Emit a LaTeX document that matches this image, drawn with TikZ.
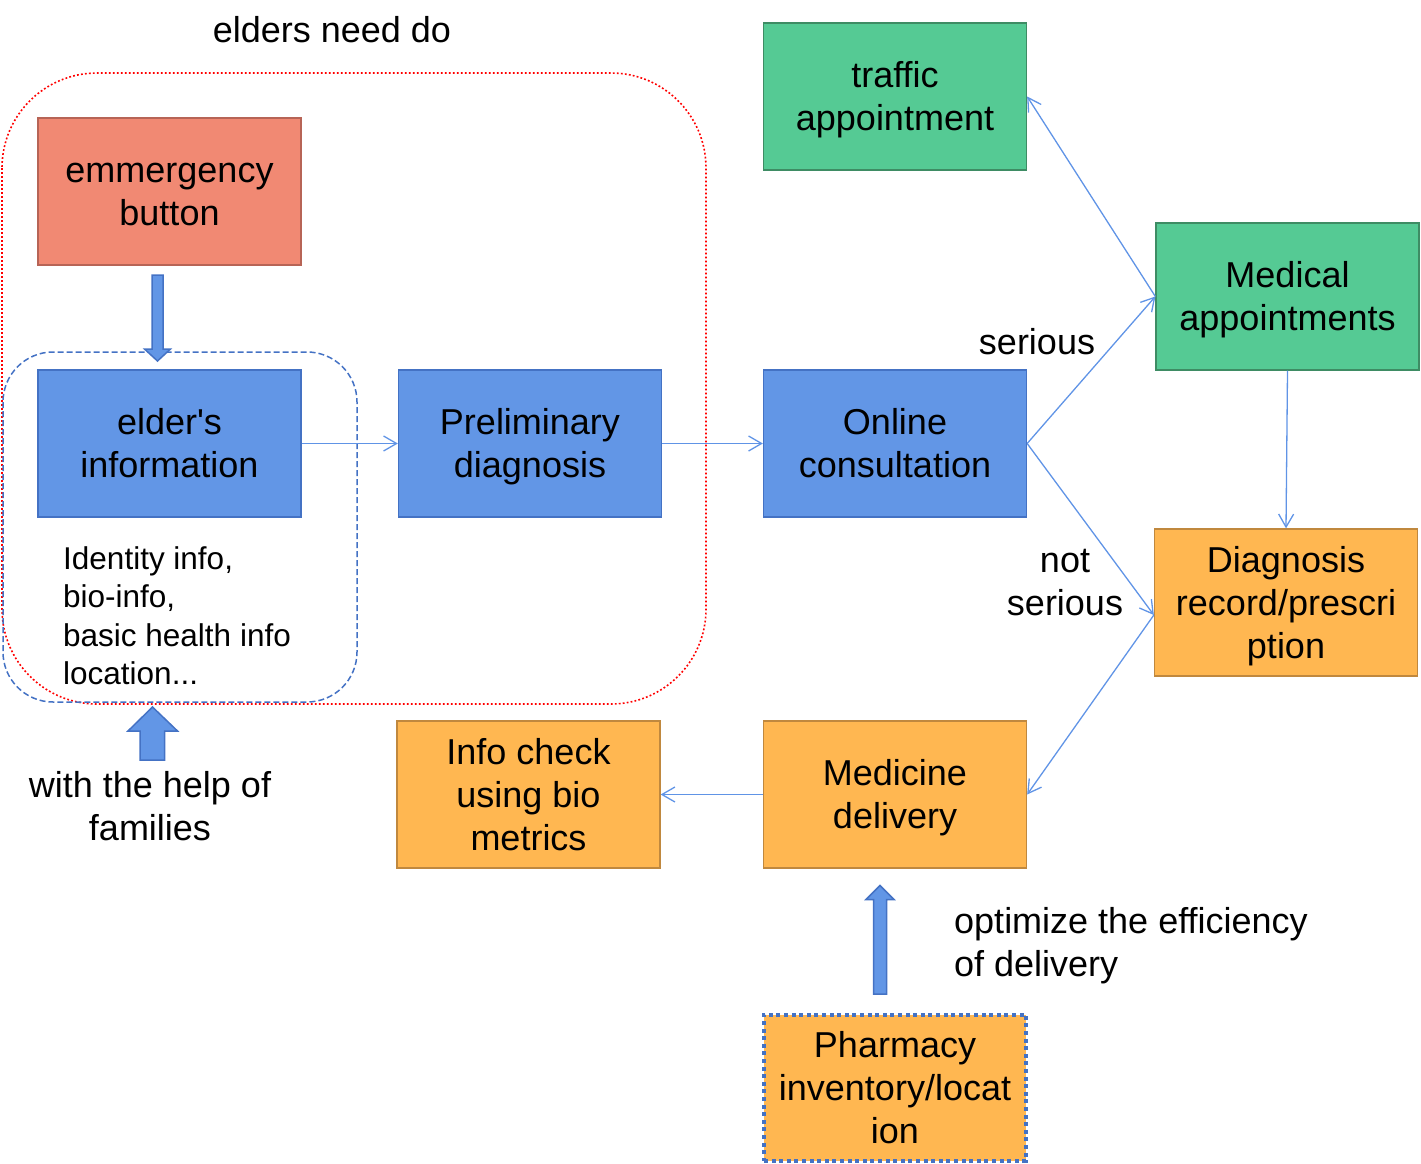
\documentclass[tikz,border=0pt]{standalone}
\usepackage{fontspec}
\setmainfont{Liberation Sans}
\usetikzlibrary{arrows.meta,calc}
\definecolor{flowcolor0001}{RGB}{241,137,115}
\definecolor{flowcolor0002}{RGB}{183,100,86}
\definecolor{flowcolor0003}{RGB}{98,150,230}
\definecolor{flowcolor0004}{RGB}{68,114,196}
\definecolor{flowcolor0005}{RGB}{85,202,148}
\definecolor{flowcolor0006}{RGB}{62,140,100}
\definecolor{flowcolor0007}{RGB}{255,183,81}
\definecolor{flowcolor0008}{RGB}{192,136,62}
\definecolor{flowcolor0009}{RGB}{96,148,230}
\definecolor{flowcolor0010}{RGB}{255,0,0}
\begin{document}
\begin{tikzpicture}[yscale=-1
,pstyle7/.style={inner sep=0,align=flush center,font=\fontsize{36}{43}\selectfont,execute at begin node={\leavevmode\rule{0pt}{32.6pt}},execute at end node={\rule[-7.6pt]{0pt}{7.6pt}}}
,pstyle0/.style={pstyle7,text width=255pt,line width=1.3pt,minimum width=263pt,minimum height=147pt}
,pstyle1/.style={pstyle0,draw=flowcolor0002,fill=flowcolor0001}
,pstyle2/.style={pstyle0,draw=flowcolor0004,fill=flowcolor0003}
,pstyle3/.style={pstyle0,draw=flowcolor0006,fill=flowcolor0005}
,pstyle4/.style={pstyle0,draw=flowcolor0008,fill=flowcolor0007}
,pstyle5/.style={draw=flowcolor0009,line width=1.3pt,-{Straight Barb[length=13pt,width=15pt]}}
,pstyle6/.style={draw=flowcolor0004,fill=flowcolor0003,line width=1.5pt,line join=miter}
,pstyle8/.style={inner sep=0,align=left,font=\fontsize{31.5}{38.6}\selectfont}
]
\useasboundingbox (0pt,0pt) rectangle (1421pt,1164pt);
\draw[color=flowcolor0010,line width=1.6pt,dash pattern=on 1.8pt off 2.2pt,rounded corners=95pt] (2pt,73pt) rectangle (706pt,704pt);
\draw[color=flowcolor0004,line width=1.5pt,dash pattern=on 6pt off 3pt,rounded corners=50pt] (3pt,352pt) rectangle (357pt,702pt);
\node[pstyle1] (emg) at (169.5pt,191.5pt) {emmergency\\button};
\node[pstyle2] (info) at (169.5pt,443.5pt) {elder\textquotesingle s\\information};
\node[pstyle2] (prelim) at (530pt,443.5pt) {Preliminary\\diagnosis};
\node[pstyle2] (online) at (895pt,443.5pt) {Online\\consultation};
\node[pstyle3] (traffic) at (895pt,96.5pt) {traffic\\appointment};
\node[pstyle3] (medical) at (1287.5pt,296.5pt) {Medical\\appointments};
\node[pstyle4] (diag) at (1286pt,602.5pt) {Diagnosis\\record/prescri\\ption};
\node[pstyle4] (medicine) at (895pt,794.5pt) {Medicine\\delivery};
\node[pstyle4] (check) at (528.5pt,794.5pt) {Info check\\using bio\\metrics};
\node[pstyle4,draw=flowcolor0004,line width=4pt,dash pattern=on 4pt off 3.6pt,minimum width=262pt,minimum height=146pt] (pharmacy) at (895pt,1087.5pt) {Pharmacy\\inventory/locat\\ion};
\node[pstyle7] (title) at (332pt,30pt) {elders need do};
\node[pstyle8,anchor=north west] (infonote) at (63pt,546pt) {Identity info,\\bio-info,\\basic health info\\location...};
\node[pstyle7,text width=270pt] (helpnote) at (150pt,806pt) {with the help of\\families};
\node[pstyle7] (serious) at (1037pt,342pt) {serious};
\node[pstyle7,text width=140pt] (notserious) at (1065pt,581pt) {not\\serious};
\node[pstyle7,text width=370pt,align=flush left,anchor=west] (optnote) at (954pt,942pt) {optimize the efficiency\\of delivery};
\draw[pstyle6] (152pt,275pt) -- (163pt,275pt) -- (163pt,349pt) -- (170.5pt,349pt) -- (157.5pt,361pt) -- (144.5pt,349pt) -- (152pt,349pt) -- cycle;
\draw[pstyle6] (140pt,760pt) -- (164.5pt,760pt) -- (164.5pt,731pt) -- (177.5pt,731pt) -- (152.5pt,707pt) -- (128pt,731pt) -- (140pt,731pt) -- cycle;
\draw[pstyle6] (873.5pt,994pt) -- (886.5pt,994pt) -- (886.5pt,899.5pt) -- (894pt,899.5pt) -- (880pt,885.5pt) -- (866pt,899.5pt) -- (873.5pt,899.5pt) -- cycle;
\draw[pstyle5] (info) -- (prelim);
\draw[pstyle5] (prelim) -- (online);
\draw[pstyle5] (online.east) -- (medical.west);
\draw[pstyle5] (medical.west) -- (traffic.east);
\draw[pstyle5] (online.east) -- ($(diag.west)+(0pt,12.5pt)$);
\draw[pstyle5] ($(diag.west)+(0pt,12.5pt)$) -- (medicine.east);
\draw[pstyle5] (medical.south) -- (diag.north);
\draw[pstyle5] (medicine) -- (check);
\end{tikzpicture}
\end{document}
